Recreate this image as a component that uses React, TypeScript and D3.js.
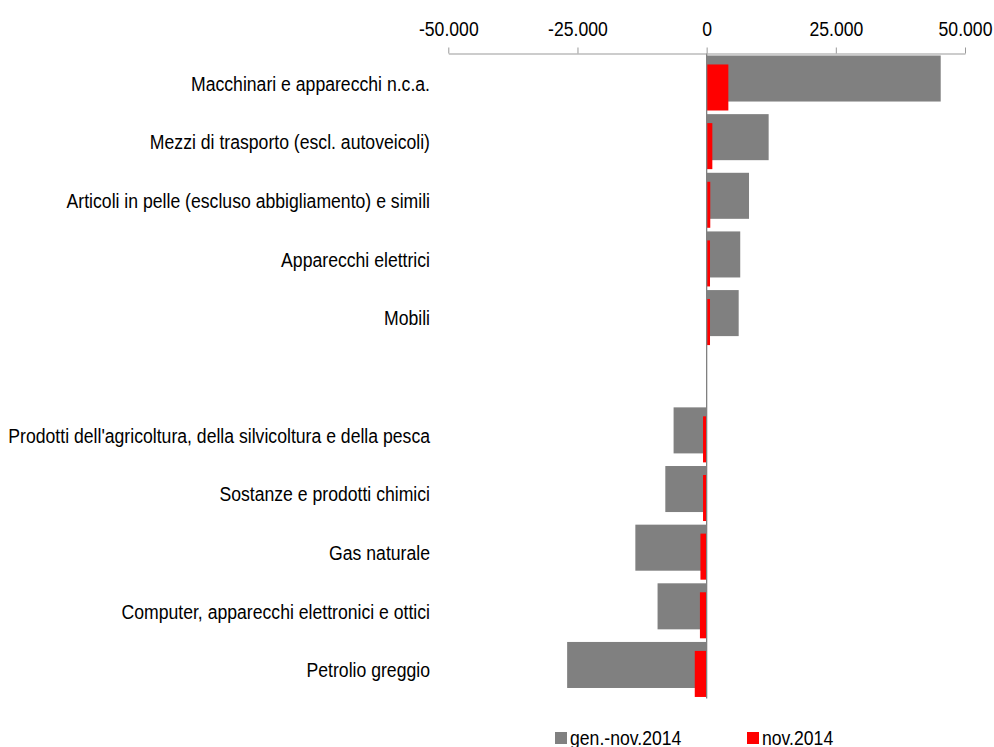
import React, { useEffect, useRef } from "react";
import * as d3 from "d3";

// categories top to bottom, "" is the empty slot between the two groups
const categories = [
  "Macchinari e apparecchi n.c.a.",
  "Mezzi di trasporto (escl. autoveicoli)",
  "Articoli in pelle (escluso abbigliamento) e simili",
  "Apparecchi elettrici",
  "Mobili",
  "",
  "Prodotti dell'agricoltura, della silvicoltura e della pesca",
  "Sostanze e prodotti chimici",
  "Gas naturale",
  "Computer, apparecchi elettronici e ottici",
  "Petrolio greggio",
];
const genNov2014 = [45300, 12000, 8200, 6500, 6200, null, -6400, -8000, -13800, -9500, -27000];
const nov2014 = [4200, 1100, 700, 650, 650, null, -700, -700, -1200, -1300, -2300];
const seriesNames = ["gen.-nov.2014", "nov.2014"];
const tickValues = [-50000, -25000, 0, 25000, 50000];

const W = 994, H = 747;
const FONT = "'Liberation Sans', Arial, sans-serif";
const NARROW = 0.84; // the original text is condensed

const itLocale = d3.formatLocale({ decimal: ",", thousands: ".", grouping: [3], currency: ["€", ""], minus: "-" });
const fmt = itLocale.format(",d");

function drawChart(el: SVGSVGElement) {
  const svg = d3.select(el);
  svg.selectAll("*").remove();

  const x = d3.scaleLinear().domain([-50000, 50000]).range([448.3, 965]);
  const y = d3.scaleBand<string>().domain(categories.map((c, i) => i + "")).range([53.5, 698.6]).padding(0);
  const bw = y.bandwidth();
  const barH = bw * 0.785;
  const color = d3.scaleOrdinal<string>().domain(seriesNames).range(["#808080", "#ff0000"]);

  const rows = categories.map((c, i) => ({ key: i + "", name: c, a: genNov2014[i], b: nov2014[i] }));

  // gray series
  svg.append("g").selectAll("rect")
    .data(rows.filter(d => d.a !== null))
    .enter().append("rect")
    .attr("x", d => x(Math.min(0, d.a as number)))
    .attr("width", d => Math.abs(x(d.a as number) - x(0)))
    .attr("y", d => (y(d.key) as number) + bw * 0.034)
    .attr("height", barH)
    .style("fill", color(seriesNames[0]));

  // red series, overlapping and shifted down
  svg.append("g").selectAll("rect")
    .data(rows.filter(d => d.b !== null))
    .enter().append("rect")
    .attr("x", d => x(Math.min(0, d.b as number)))
    .attr("width", d => Math.abs(x(d.b as number) - x(0)))
    .attr("y", d => (y(d.key) as number) + bw * 0.187)
    .attr("height", barH)
    .style("fill", color(seriesNames[1]));

  // zero line
  svg.append("line")
    .attr("x1", x(0)).attr("x2", x(0))
    .attr("y1", 53.5).attr("y2", 698.6)
    .style("stroke", "#808080").style("stroke-width", 1.3);

  // top axis
  const axis = svg.append("g")
    .attr("transform", "translate(0,53.5)")
    .call(d3.axisTop(x).tickValues(tickValues).tickFormat(d => fmt(d as number)).tickSize(6).tickSizeOuter(0).tickPadding(12));
  axis.select(".domain").style("stroke", "#999");
  axis.selectAll(".tick line").style("stroke", "#999");
  axis.selectAll(".tick text")
    .attr("transform", "scale(" + NARROW + ",1)")
    .style("font-family", FONT).style("font-size", "21px").style("fill", "#000");

  // category labels
  svg.append("g").selectAll("text")
    .data(rows.filter(d => d.name !== ""))
    .enter().append("text")
    .attr("transform", d => "translate(430," + ((y(d.key) as number) + bw / 2 + 8) + ") scale(" + NARROW + ",1)")
    .style("text-anchor", "end")
    .style("font-family", FONT)
    .style("font-size", "21px")
    .style("fill", "#000")
    .text(d => d.name);

  // legend
  const legendX = [555, 747];
  const legend = svg.append("g").selectAll("g")
    .data(seriesNames)
    .enter().append("g")
    .attr("transform", (d, i) => "translate(" + legendX[i] + ",732)");
  legend.append("rect")
    .attr("width", 12).attr("height", 12)
    .style("fill", d => color(d));
  legend.append("text")
    .attr("transform", "translate(15,13) scale(" + NARROW + ",1)")
    .style("font-family", FONT)
    .style("font-size", "21px")
    .style("fill", "#000")
    .text(d => d);
}

export default function App() {
  const ref = useRef<SVGSVGElement>(null);
  useEffect(() => {
    document.body.style.margin = "0";
    if (ref.current) drawChart(ref.current);
  }, []);
  return <svg ref={ref} width={W} height={H} style={{ display: "block", background: "#fff" }} />;
}
